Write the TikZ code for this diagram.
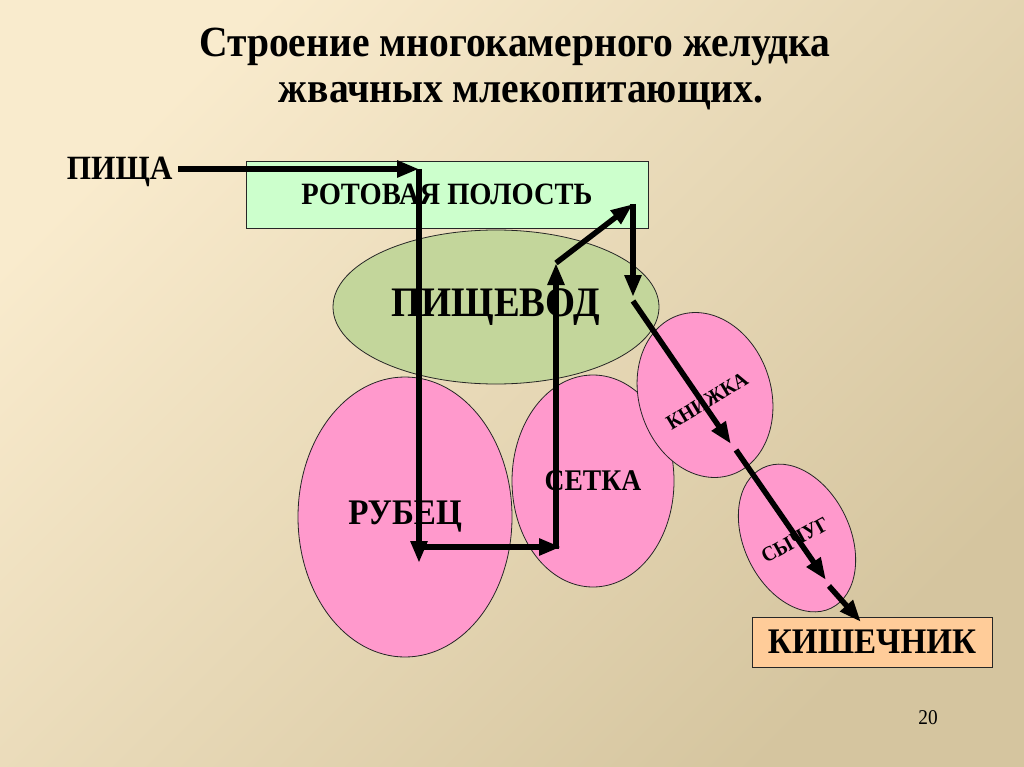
\documentclass[tikz,border=0pt]{standalone}
\usepackage{fontspec}
\setmainfont[FakeStretch=0.92]{Liberation Serif}
\usetikzlibrary{arrows.meta, shapes.geometric}
\definecolor{bgLight}{HTML}{F9EBCD}
\definecolor{bgDark}{HTML}{D5C59F}
\definecolor{mouthGreen}{HTML}{CCFFCC}
\definecolor{gulletOlive}{HTML}{C3D69B}
\definecolor{chamberPink}{HTML}{FF99CC}
\definecolor{gutPeach}{HTML}{FFCC99}

\begin{document}
\begin{tikzpicture}[x=1pt,y=-1pt,
        every node/.style={align=center},
        txt/.style={font=\fontsize{#1}{#1}\selectfont\bfseries},
        box/.style={draw=black!85,line width=.8pt,inner sep=0pt},
        oval/.style={ellipse,draw=black!85,line width=.8pt,inner sep=0pt,fill=chamberPink},
        flow/.style={line width=5.5pt,-{Triangle[length=22pt,width=16pt]}}]
        \shade[top color=bgLight,bottom color=bgDark,shading angle=45] (0,0) rectangle (1024,767);
        \node[font=\fontsize{43}{46}\selectfont\bfseries] (title) at (515,69)
          {Строение многокамерного желудка\\\hspace*{12pt}жвачных млекопитающих.};
        \node[oval,minimum width=214,minimum height=280,txt=36] (rumen) at (405,517) {РУБЕЦ};
        \node[oval,minimum width=162,minimum height=212,txt=30] (net) at (593,481) {СЕТКА};
        \node[oval,minimum width=132,minimum height=168,rotate=18] (book) at (705,395) {};
        \node[oval,minimum width=106,minimum height=156,rotate=26] (abom) at (797,538) {};
        \node[box,ellipse,fill=gulletOlive,minimum width=326,minimum height=154,txt=42] (gullet) at (496,307) {ПИЩЕВОД};
        \node[box,fill=mouthGreen,minimum width=402,minimum height=67,txt=31] (mouth) at (447,194.5) {РОТОВАЯ ПОЛОСТЬ};
        \node[box,fill=gutPeach,minimum width=240,minimum height=50,txt=36] (gut) at (872,642) {КИШЕЧНИК};
        \node[txt=21,rotate=31] (booklbl) at (707,401) {КНИЖКА};
        \node[txt=21,rotate=29] (abomlbl) at (795,540) {СЫЧУГ};
        \node[txt=34,anchor=east] (food) at (176,172) {ПИЩА};
        \node[font=\fontsize{21}{21}\selectfont] (page) at (928,718) {20};
        \coordinate (c1) at (419,169);
        \coordinate (c2) at (419,563);
        \coordinate (c3) at (422,547);
        \coordinate (c4) at (561,547);
        \coordinate (c5) at (556,549);
        \coordinate (c6) at (556,263);
        \coordinate (c7) at (633,204);
        \coordinate (c8) at (633,297);
        \coordinate (c9) at (633,301);
        \coordinate (c10) at (731,444);
        \coordinate (c11) at (736,450);
        \coordinate (c12) at (826,580);
        \coordinate (c13) at (829,586);
        \coordinate (c14) at (861,622);
        \draw[flow] (food.east) ++(2,-3) -- (c1);
        \draw[flow] (c1) -- (c2);
        \draw[flow] (c3) -- (c4);
        \draw[flow] (c5) -- (c6);
        \draw[flow] (c6) -- (c7);
        \draw[flow] (c7) -- (c8);
        \draw[flow] (c9) -- (c10);
        \draw[flow] (c11) -- (c12);
        \draw[flow] (c13) -- (c14);
      \end{tikzpicture}
\end{document}
